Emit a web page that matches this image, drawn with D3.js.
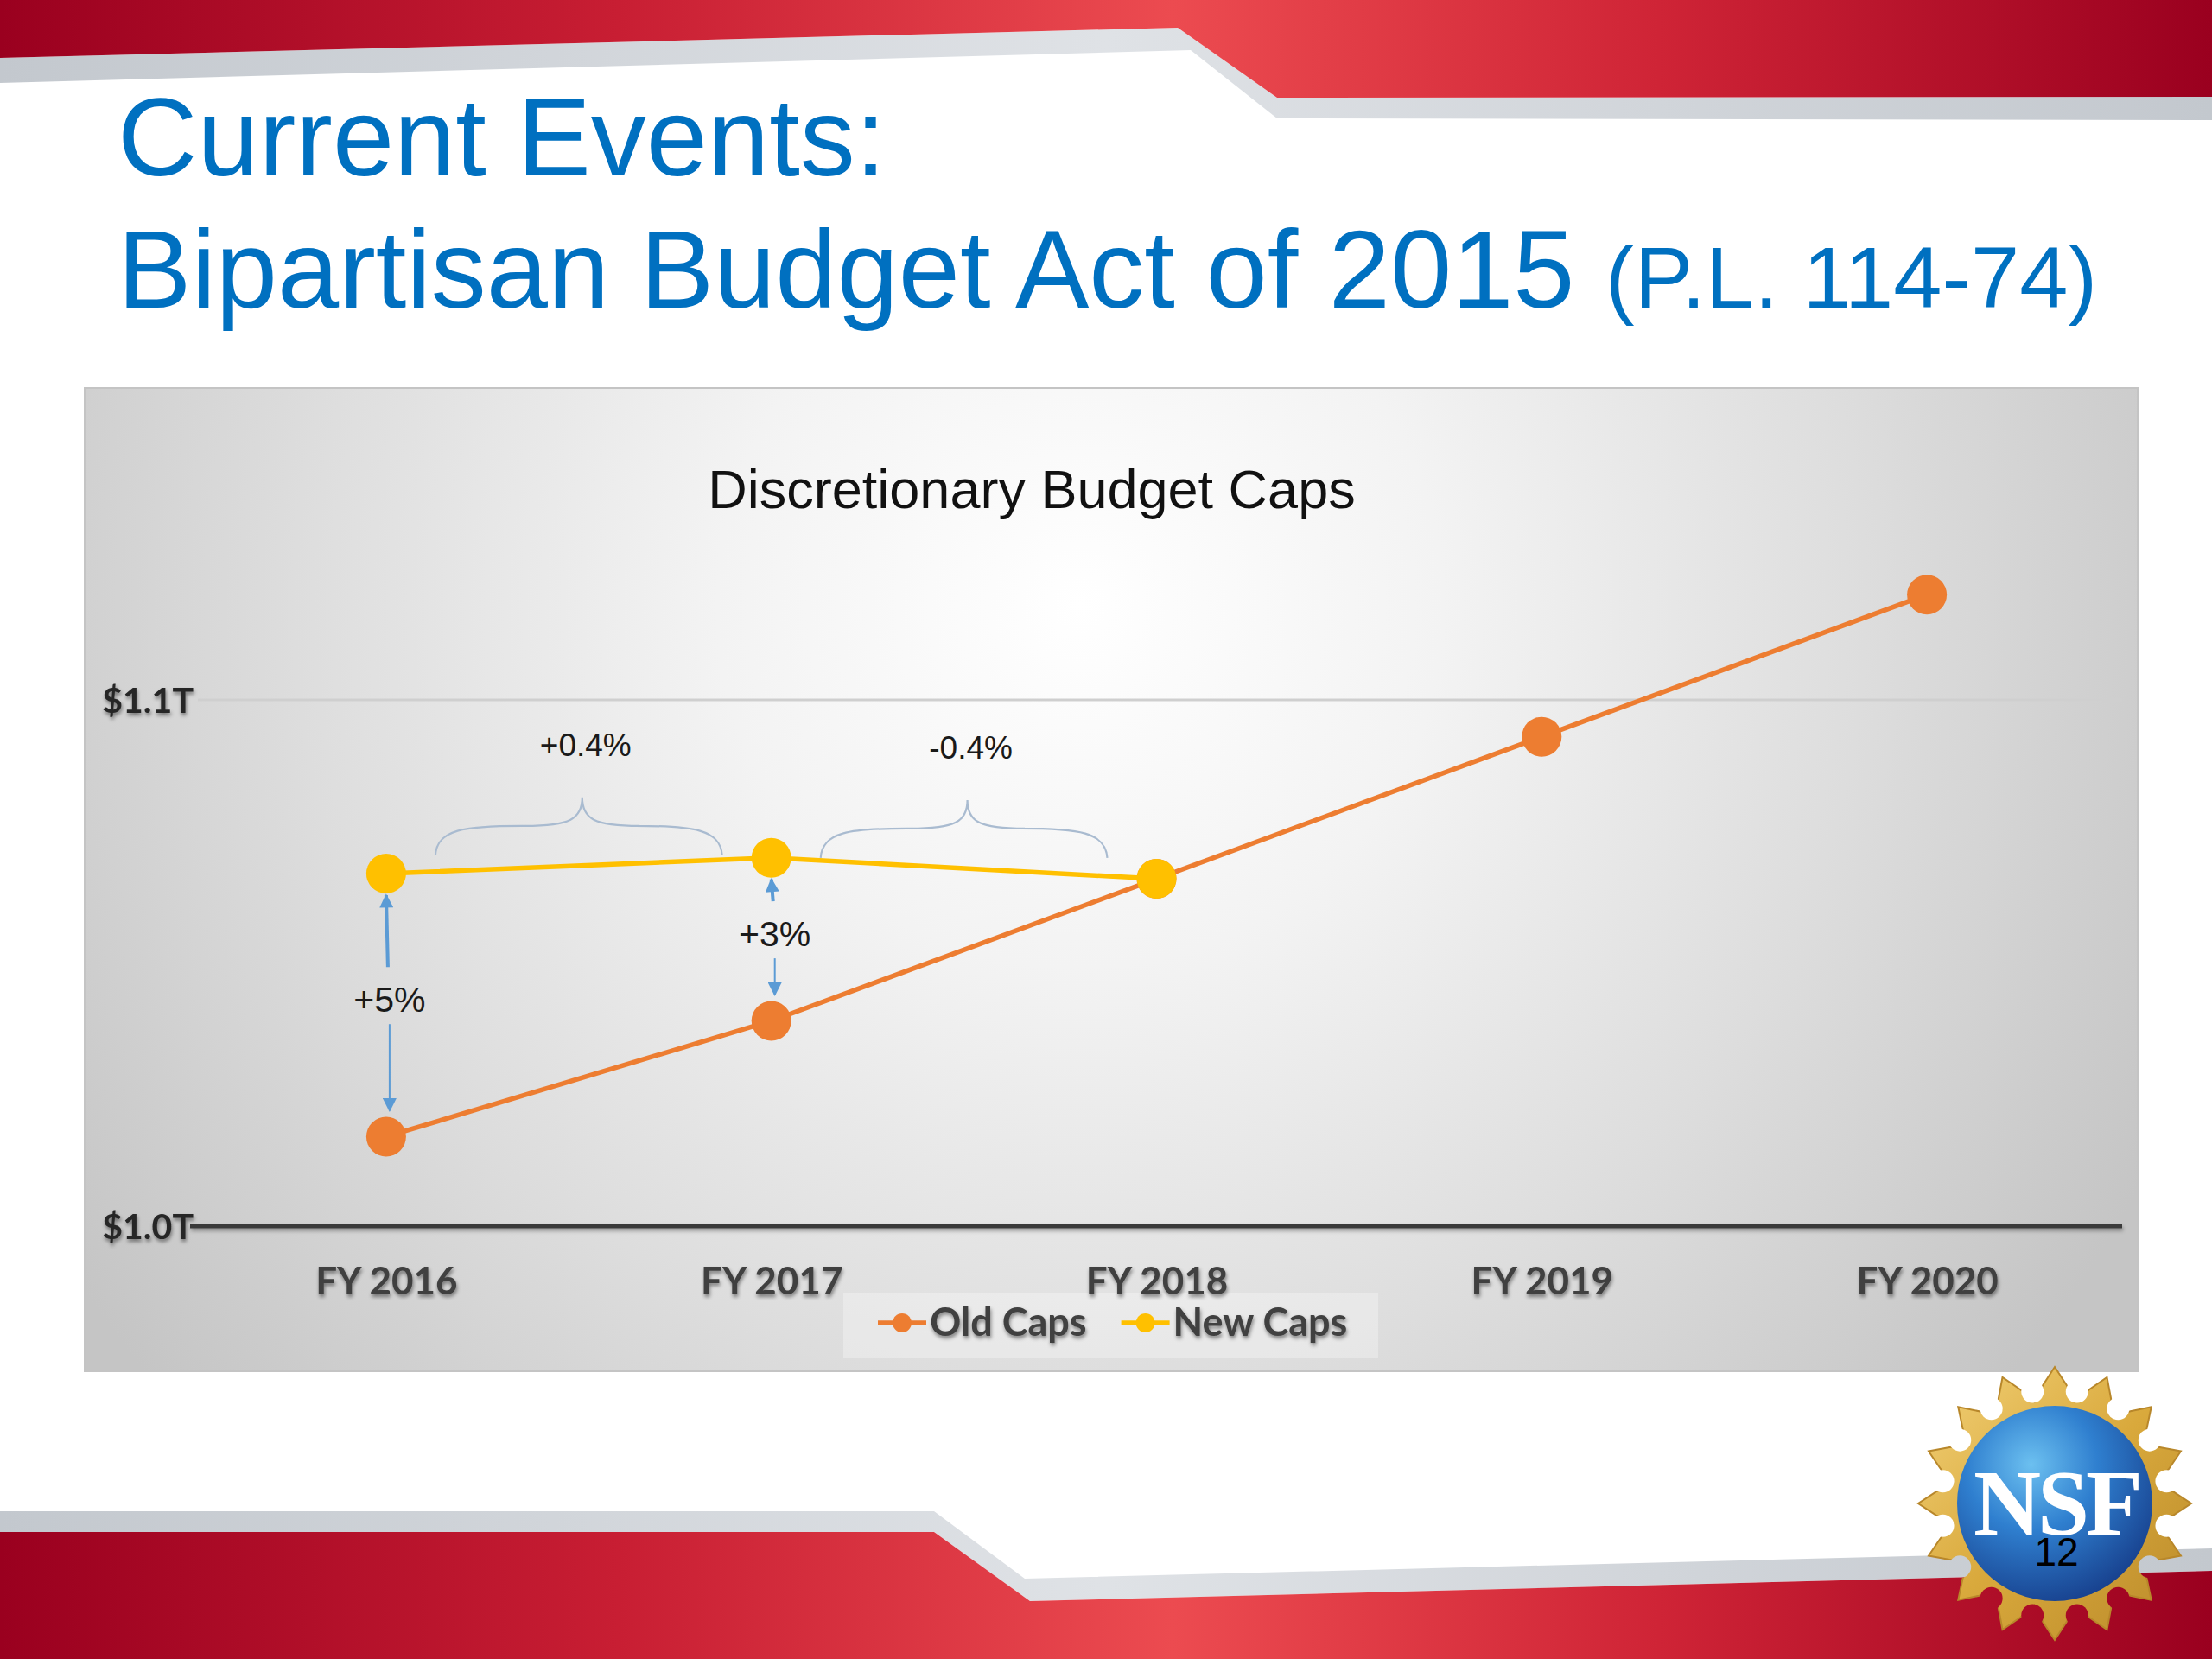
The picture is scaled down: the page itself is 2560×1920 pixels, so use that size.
<!DOCTYPE html>
<html>
<head>
<meta charset="utf-8">
<script src="https://cdn.jsdelivr.net/npm/d3@7"></script>
<style>
  html, body { margin: 0; padding: 0; background: #ffffff; }
  svg { display: block; }
</style>
</head>
<body>
<script>
// ---------------- DATA ----------------
const categories = ["FY 2016", "FY 2017", "FY 2018", "FY 2019", "FY 2020"];
const oldCaps = [1.017, 1.039, 1.066, 1.093, 1.120];
const newCaps = [1.067, 1.070, 1.066, null, null];
const seriesNames = ["Old Caps", "New Caps"];
const yTicks = [1.0, 1.1];
const yTickLabels = ["$1.0T", "$1.1T"];
const arrowNotes = [
  { cat: "FY 2016", label: "+5%" },
  { cat: "FY 2017", label: "+3%" }
];
const braceNotes = [
  { from: "FY 2016", to: "FY 2017", label: "+0.4%" },
  { from: "FY 2017", to: "FY 2018", label: "-0.4%" }
];
const slideTitle1 = "Current Events:";
const slideTitle2 = "Bipartisan Budget Act of 2015";
const slideTitle2b = "(P.L. 114-74)";
const chartTitle = "Discretionary Budget Caps";
const pageNumber = "12";

// ---------------- SETUP ----------------
const W = 2560, H = 1920;
const svg = d3.select("body").append("svg").attr("width", W).attr("height", H);
const defs = svg.append("defs");

const redGrad = defs.append("linearGradient").attr("id", "redGrad")
  .attr("gradientUnits", "userSpaceOnUse").attr("x1", 0).attr("x2", W).attr("y1", 0).attr("y2", 0);
[[0, "#9a001f"], [0.28, "#c81e33"], [0.53, "#ec4b50"], [0.75, "#cf2436"], [1, "#9a001f"]]
  .forEach(([o, c]) => redGrad.append("stop").attr("offset", o).attr("stop-color", c));

const grayGrad = defs.append("linearGradient").attr("id", "grayGrad")
  .attr("x1", 0).attr("x2", 1).attr("y1", 0).attr("y2", 0);
[[0, "#c3c8ce"], [0.5, "#dfe2e6"], [1, "#c3c8ce"]]
  .forEach(([o, c]) => grayGrad.append("stop").attr("offset", o).attr("stop-color", c));

const boxGrad = defs.append("radialGradient").attr("id", "boxGrad")
  .attr("gradientUnits", "userSpaceOnUse").attr("cx", 1250).attr("cy", 700).attr("r", 1400);
[[0, "#ffffff"], [0.3, "#f3f3f3"], [0.65, "#dddddd"], [1, "#c5c5c5"]]
  .forEach(([o, c]) => boxGrad.append("stop").attr("offset", o).attr("stop-color", c));

const globeGrad = defs.append("radialGradient").attr("id", "globeGrad")
  .attr("cx", "38%").attr("cy", "30%").attr("r", "75%");
[[0, "#6cc0f0"], [0.45, "#2f7fcf"], [1, "#173f8c"]]
  .forEach(([o, c]) => globeGrad.append("stop").attr("offset", o).attr("stop-color", c));

const goldGrad = defs.append("linearGradient").attr("id", "goldGrad")
  .attr("x1", 0).attr("x2", 1).attr("y1", 0).attr("y2", 1);
[[0, "#f3d27a"], [0.5, "#d9a93c"], [1, "#b9892a"]]
  .forEach(([o, c]) => goldGrad.append("stop").attr("offset", o).attr("stop-color", c));

const shadow = defs.append("filter").attr("id", "sh")
  .attr("x", "-10%").attr("y", "-30%").attr("width", "120%").attr("height", "180%");
shadow.append("feDropShadow").attr("dx", 1).attr("dy", 3).attr("stdDeviation", 2)
  .attr("flood-color", "#000").attr("flood-opacity", 0.45);

const blur = defs.append("filter").attr("id", "blur")
  .attr("filterUnits", "userSpaceOnUse").attr("x", 0).attr("y", 0).attr("width", W).attr("height", H);
blur.append("feGaussianBlur").attr("stdDeviation", 2);

defs.append("marker").attr("id", "arrowHead")
  .attr("viewBox", "0 0 10 10").attr("refX", 9).attr("refY", 5)
  .attr("markerUnits", "userSpaceOnUse").attr("markerWidth", 20).attr("markerHeight", 16)
  .attr("orient", "auto")
  .append("path").attr("d", "M0,0 L10,5 L0,10 Z").attr("fill", "#5b9bd5");

// ---------------- SLIDE DECORATION ----------------
svg.append("polygon")
  .attr("points", [[0, 67], [1363, 32], [1478, 113], [2560, 112], [2560, 139], [1478, 137], [1378, 58], [0, 96]].join(" "))
  .attr("fill", "url(#grayGrad)");
svg.append("polygon")
  .attr("points", [[0, 0], [2560, 0], [2560, 112], [1478, 113], [1363, 32], [0, 67]].join(" "))
  .attr("fill", "url(#redGrad)");
svg.append("polygon")
  .attr("points", [[0, 1749], [1081, 1749], [1186, 1827], [2560, 1792], [2560, 1818], [1192, 1853], [1081, 1773], [0, 1773]].join(" "))
  .attr("fill", "url(#grayGrad)");
svg.append("polygon")
  .attr("points", [[0, 1773], [1081, 1773], [1192, 1853], [2560, 1818], [2560, 1920], [0, 1920]].join(" "))
  .attr("fill", "url(#redGrad)");

const titleFont = "'Liberation Sans', Arial, sans-serif";
svg.append("text").attr("x", 136).attr("y", 203)
  .attr("font-family", titleFont).attr("font-size", 128).attr("fill", "#0070c0")
  .text(slideTitle1);
const t2 = svg.append("text").attr("x", 136).attr("y", 356)
  .attr("font-family", titleFont).attr("font-size", 128).attr("fill", "#0070c0");
t2.append("tspan").text(slideTitle2 + " ");
t2.append("tspan").attr("font-size", 101).text(slideTitle2b);

// ---------------- CHART ----------------
const box = { x: 98, y: 449, w: 2376, h: 1138 };
svg.append("rect").attr("x", box.x).attr("y", box.y).attr("width", box.w).attr("height", box.h)
  .attr("fill", "url(#boxGrad)").attr("stroke", "#c4c4c4").attr("stroke-width", 2);

const x = d3.scalePoint().domain(categories).range([224, 2453]).padding(0.5);
const y = d3.scaleLinear().domain([1.0, 1.1]).range([1419, 810]);
const axisLeftX = 220, axisRightX = 2456;

svg.append("text").attr("x", 1194).attr("y", 588).attr("text-anchor", "middle")
  .attr("font-family", titleFont).attr("font-size", 63).attr("fill", "#111")
  .text(chartTitle);

svg.append("g").selectAll("line").data(yTicks.filter(t => t !== y.domain()[0])).join("line")
  .attr("x1", 229).attr("x2", axisRightX).attr("y1", d => y(d)).attr("y2", d => y(d))
  .attr("stroke", "#cfcfcf").attr("stroke-width", 3);

// baseline axis line with soft shadow
const y0 = y(y.domain()[0]);
svg.append("line").attr("x1", axisLeftX + 1).attr("x2", axisRightX + 1)
  .attr("y1", y0 + 3).attr("y2", y0 + 3)
  .attr("stroke", "#000").attr("stroke-opacity", 0.35).attr("stroke-width", 5).attr("filter", "url(#blur)");
svg.append("line").attr("x1", axisLeftX).attr("x2", axisRightX)
  .attr("y1", y0).attr("y2", y0)
  .attr("stroke", "#3a3a3a").attr("stroke-width", 5);

const labelFont = "Lato, 'Open Sans', sans-serif";

const yAxis = d3.axisLeft(y).tickValues(yTicks)
  .tickFormat(d => yTickLabels[yTicks.indexOf(d)]).tickSize(0).tickPadding(0);
const gy = svg.append("g").attr("transform", `translate(${axisLeftX + 4},0)`).call(yAxis);
gy.select(".domain").remove();
gy.selectAll("text").attr("font-family", labelFont).attr("font-weight", "bold")
  .attr("font-size", 41).attr("fill", "#262626").attr("dy", "0.36em").attr("filter", "url(#sh)");

svg.append("rect").attr("x", 976).attr("y", 1496).attr("width", 619).attr("height", 76)
  .attr("fill", "#ffffff").attr("fill-opacity", 0.3);

const xAxis = d3.axisBottom(x).tickSize(0);
const gx = svg.append("g").attr("transform", `translate(0,${y0})`).call(xAxis);
gx.select(".domain").remove();
gx.selectAll("text").attr("font-family", labelFont).attr("font-weight", "bold")
  .attr("font-size", 44).attr("fill", "#404040").attr("y", 79).attr("dy", 0)
  .attr("filter", "url(#sh)");

const colors = ["#ed7d31", "#ffc000"];
const seriesData = [oldCaps, newCaps];
const line = d3.line()
  .defined(d => d.v != null)
  .x(d => x(d.c)).y(d => y(d.v));

seriesData.forEach((vals, i) => {
  const pts = categories.map((c, j) => ({ c, v: vals[j] }));
  svg.append("path").datum(pts).attr("d", line)
    .attr("fill", "none").attr("stroke", colors[i]).attr("stroke-width", 5.5)
    .attr("stroke-linejoin", "round");
  svg.append("g").selectAll("circle").data(pts.filter(d => d.v != null)).join("circle")
    .attr("cx", d => x(d.c)).attr("cy", d => y(d.v)).attr("r", 23)
    .attr("fill", colors[i]);
});

const noteFont = titleFont;
arrowNotes.forEach(n => {
  const j = categories.indexOf(n.cat);
  const cx = x(n.cat);
  const yN = y(newCaps[j]), yO = y(oldCaps[j]);
  const base = (yN + yO) / 2 + 8;
  svg.append("text").attr("x", cx + 4).attr("y", base).attr("text-anchor", "middle")
    .attr("font-family", noteFont).attr("font-size", 41).attr("fill", "#1a1a1a").text(n.label);
  svg.append("line").attr("x1", cx + 2).attr("y1", base - 52).attr("x2", cx).attr("y2", yN + 25)
    .attr("stroke", "#5b9bd5").attr("stroke-width", 4).attr("marker-end", "url(#arrowHead)");
  svg.append("line").attr("x1", cx + 4).attr("y1", base + 14).attr("x2", cx + 4).attr("y2", yO - 30)
    .attr("stroke", "#5b9bd5").attr("stroke-width", 2).attr("marker-end", "url(#arrowHead)");
});

braceNotes.forEach(n => {
  const j1 = categories.indexOf(n.from), j2 = categories.indexOf(n.to);
  const x0 = x(n.from) + 57, x1 = x(n.to) - 57;
  const xm = (x0 + x1) / 2 + 4;
  const baseY = (y(newCaps[j1]) + y(newCaps[j2])) / 2 - 12;
  const tip = baseY - 67;
  const s = baseY - 34;
  const q = (x1 - x0) * 0.2;
  const d = `M${x0},${baseY} C${x0 + 2},${s + 4} ${x0 + q * 0.5},${s} ${x0 + q * 1.5},${s}` +
    ` L${xm - q},${s} C${xm - 14},${s} ${xm},${s - 8} ${xm},${tip}` +
    ` C${xm},${s - 8} ${xm + 14},${s} ${xm + q},${s} L${x1 - q * 1.5},${s}` +
    ` C${x1 - q * 0.5},${s} ${x1 - 2},${s + 4} ${x1},${baseY}`;
  svg.append("path").attr("d", d).attr("fill", "none")
    .attr("stroke", "#a9bbd0").attr("stroke-width", 2.2);
  svg.append("text").attr("x", xm + 4).attr("y", tip - 48).attr("text-anchor", "middle")
    .attr("font-family", noteFont).attr("font-size", 37).attr("fill", "#1a1a1a").text(n.label);
});

const lg = svg.append("g");
let lx = 1016;
const ly = 1531;
seriesNames.forEach((name, i) => {
  lg.append("line").attr("x1", lx).attr("x2", lx + 56).attr("y1", ly).attr("y2", ly)
    .attr("stroke", colors[i]).attr("stroke-width", 5.5);
  lg.append("circle").attr("cx", lx + 28).attr("cy", ly).attr("r", 11).attr("fill", colors[i]);
  const t = lg.append("text").attr("x", lx + 60).attr("y", ly + 15)
    .attr("font-family", labelFont).attr("font-weight", "bold").attr("font-size", 45)
    .attr("fill", "#404040").attr("filter", "url(#sh)").text(name);
  lx = lx + 60 + t.node().getComputedTextLength() + 40;
});

// ---------------- NSF LOGO ----------------
const lcx = 2378, lcy = 1740;
const mask = defs.append("mask").attr("id", "ringMask");
mask.append("rect").attr("x", 2150).attr("y", 1550).attr("width", 420).attr("height", 370).attr("fill", "#fff");
const nTeeth = 16;
d3.range(nTeeth).forEach(k => {
  const a = (k + 0.5) / nTeeth * 2 * Math.PI - Math.PI / 2;
  mask.append("ellipse").attr("cx", lcx + 132 * Math.cos(a)).attr("cy", lcy + 132 * Math.sin(a))
    .attr("rx", 13).attr("ry", 13).attr("fill", "#000");
});
const starPts = [];
d3.range(nTeeth * 4).forEach(k => {
  const a = k / (nTeeth * 4) * 2 * Math.PI - Math.PI / 2;
  const phase = k % 4;
  const r = phase === 0 ? 158 : (phase === 2 ? 120 : 138);
  starPts.push([lcx + r * Math.cos(a), lcy + r * Math.sin(a)]);
});
svg.append("polygon").attr("points", starPts.join(" "))
  .attr("fill", "url(#goldGrad)").attr("stroke", "#b8872a").attr("stroke-width", 2)
  .attr("mask", "url(#ringMask)");
svg.append("circle").attr("cx", lcx).attr("cy", lcy).attr("r", 113).attr("fill", "url(#globeGrad)");
svg.append("text").attr("x", lcx + 2).attr("y", lcy + 36).attr("text-anchor", "middle")
  .attr("font-family", "'Liberation Serif', 'DejaVu Serif', serif").attr("font-weight", "bold")
  .attr("font-size", 108).attr("fill", "#ffffff").attr("letter-spacing", -4).text("NSF");
svg.append("text").attr("x", lcx + 2).attr("y", lcy + 72).attr("text-anchor", "middle")
  .attr("font-family", titleFont).attr("font-size", 46).attr("fill", "#000").text(pageNumber);
</script>
</body>
</html>
